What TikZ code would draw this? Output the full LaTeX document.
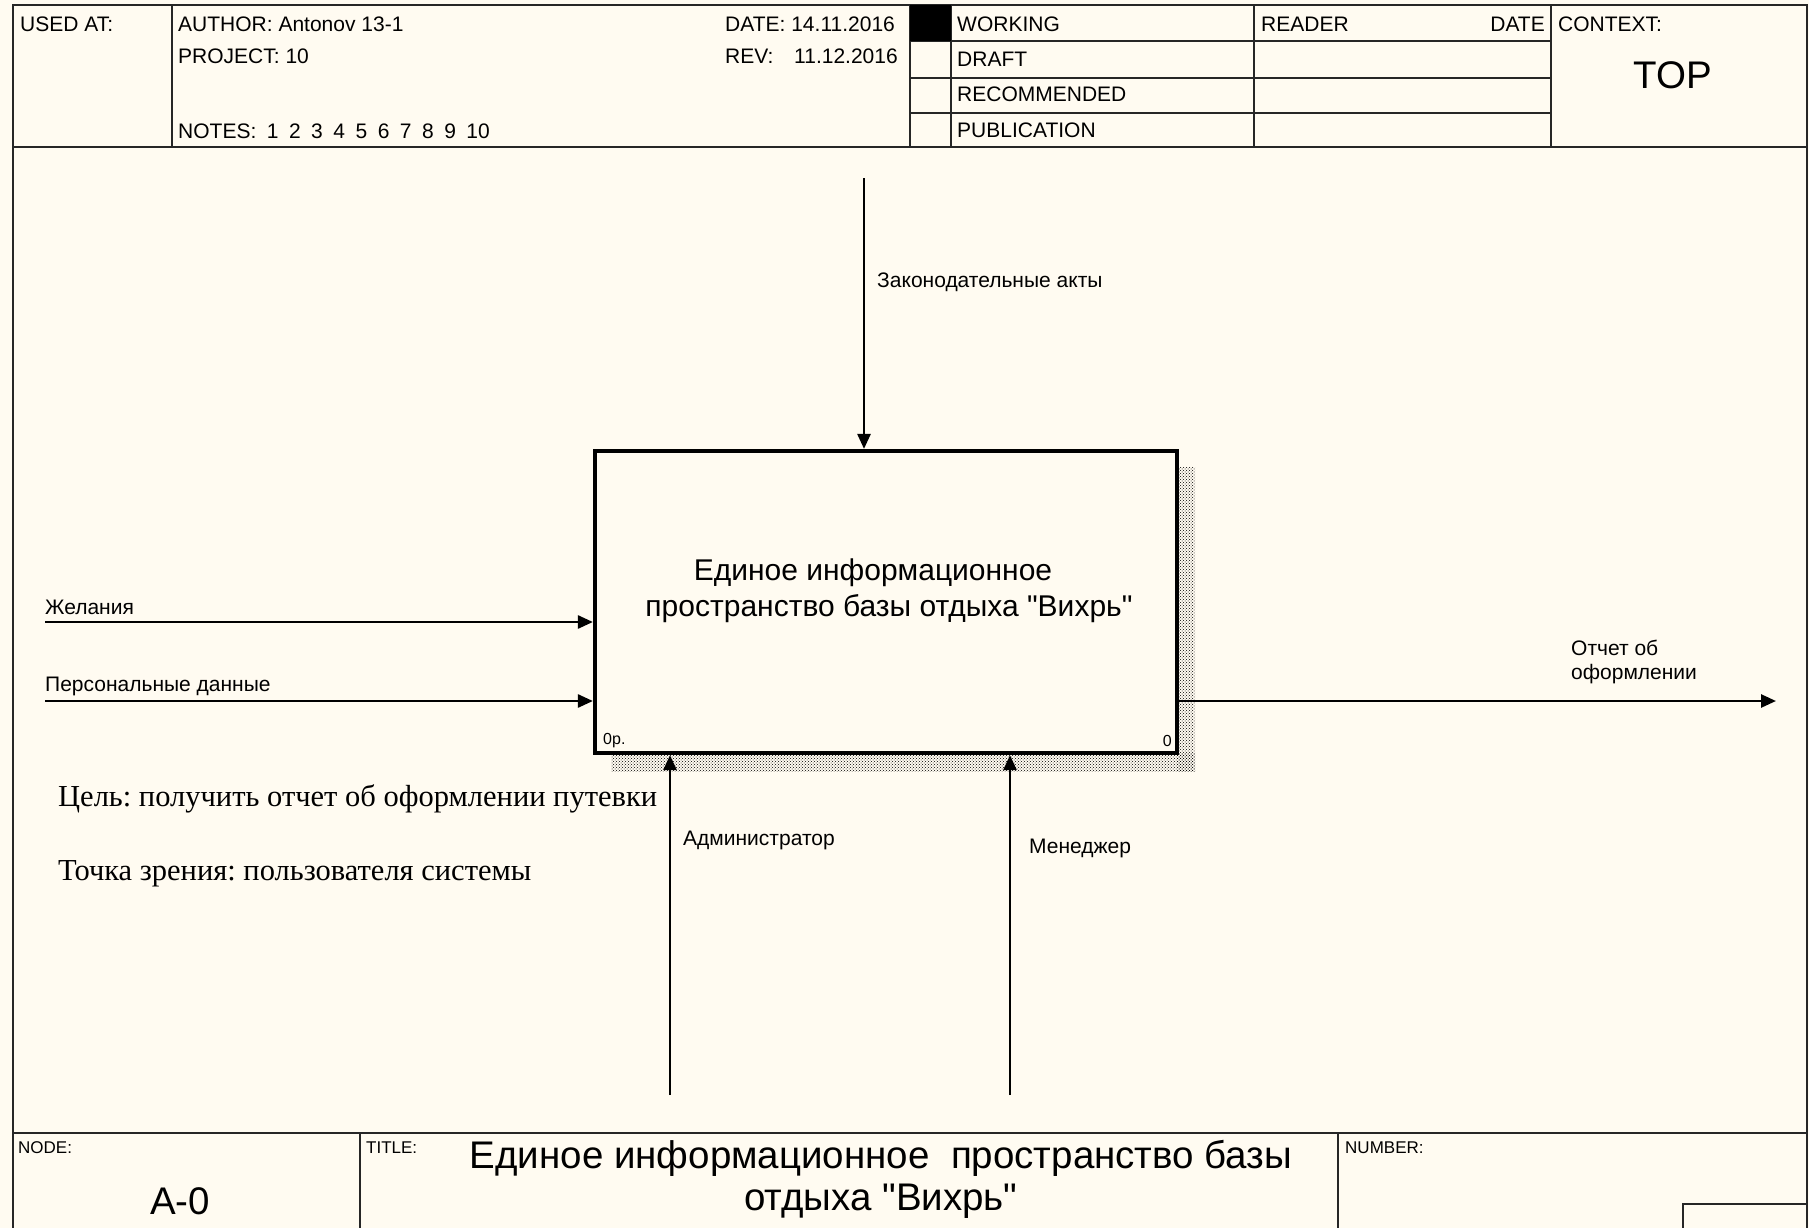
\documentclass[tikz,border=0pt]{standalone}
\usepackage{fontspec}
\setmainfont{Liberation Sans}[Ligatures=TeXOff]
\newfontfamily\serifru{Liberation Serif}
\usetikzlibrary{arrows.meta,patterns}
\definecolor{paper}{RGB}{255,251,241}
\newcommand{\qq}{\symbol{34}}
\newcommand{\ns}{\hspace{10.5pt}}
\frenchspacing
\begin{document}
\begin{tikzpicture}[x=1pt,y=-1pt,
  frame/.style={line width=2.6pt, draw=black!85},
  thin/.style={line width=2.2pt, draw=black!85},
  hdr/.style={anchor=west, inner sep=0, font=\fontsize{21}{24}\selectfont},
  small/.style={anchor=west, inner sep=0, font=\fontsize{17}{19}\selectfont},
  tiny/.style={anchor=west, inner sep=0, font=\fontsize{16}{18}\selectfont},
  lbl/.style={anchor=west, inner sep=0, font=\fontsize{21}{24}\selectfont},
  note/.style={anchor=west, inner sep=0, font=\serifru\fontsize{30.5}{34}\selectfont},
  big/.style={inner sep=0, font=\fontsize{38.5}{42}\selectfont},
  flow/.style={line width=2.6pt, -{Triangle[length=15,width=13]}},
  shadow/.style={pattern=crosshatch dots, pattern color=black, draw=none},
]
\useasboundingbox (0,0) rectangle (1809,1228);
\fill[paper] (0,0) rectangle (1809,1228);

% ---------- outer frame ----------
\draw[frame] (13,1240) -- (13,5) -- (1807,5) -- (1807,1240);
\draw[frame] (13,147) -- (1807,147);
\draw[frame] (13,1133) -- (1807,1133);

% ---------- header ----------
\draw[thin] (172,5) -- (172,147);
\draw[thin] (910,5) -- (910,147);
\draw[thin] (951,5) -- (951,147);
\draw[thin] (1254,5) -- (1254,147);
\draw[thin] (1551,5) -- (1551,147);
\foreach \yy in {41,78,113} \draw[thin] (910,\yy) -- (1551,\yy);
\fill[black] (910,5) rectangle (951,41);

\node[hdr] (usedat) at (20,24) {USED AT:};
\node[hdr] (author) at (178,24) {AUTHOR: Antonov 13-1};
\node[hdr] (project) at (178,56) {PROJECT: 10};
\node[hdr] (notes) at (178,131) {NOTES:\ns 1\ns 2\ns 3\ns 4\ns 5\ns 6\ns 7\ns 8\ns 9\ns 10};
\node[hdr] (date) at (725,24) {DATE: 14.11.2016};
\node[hdr] (rev) at (725,56) {REV:};
\node[hdr] (revd) at (794,56) {11.12.2016};
\node[hdr] (working) at (957,24) {WORKING};
\node[hdr] (draft) at (957,59) {DRAFT};
\node[hdr] (recom) at (957,94) {RECOMMENDED};
\node[hdr] (publ) at (957,130) {PUBLICATION};
\node[hdr] (reader) at (1261,24) {READER};
\node[hdr, anchor=east] (rdate) at (1545,24) {DATE};
\node[hdr] (context) at (1558,24) {CONTEXT:};
\node[big] (top) at (1673,75) {TOP};

% ---------- footer ----------
\draw[thin] (360,1133) -- (360,1240);
\draw[thin] (1338,1133) -- (1338,1240);
\draw[thin] (1683,1240) -- (1683,1204) -- (1807,1204);
\node[small] (nodel) at (18,1148) {NODE:};
\node[small] (titlel) at (366,1148) {TITLE:};
\node[small] (numl) at (1345,1148) {NUMBER:};
\node[big] (a0) at (180,1201) {A-0};
\node[big] (title1) at (881,1158) {Единое информационное\ \ пространство базы};
\node[big] (title2) at (881,1201) {отдыха \qq Вихрь\qq};

% ---------- activity box ----------
\fill[shadow] (1177,467) rectangle (1195,771);
\fill[shadow] (611,753) rectangle (1195,771);
\node[draw, line width=4.2pt, fill=paper, minimum width=582pt, minimum height=302pt, inner sep=0] (A0) at (886,602) {};
\node[inner sep=0, font=\fontsize{30}{34}\selectfont] (bt1) at (873,573) {Единое информационное};
\node[inner sep=0, font=\fontsize{30}{34}\selectfont] (bt2) at (889,609) {пространство базы отдыха \qq Вихрь\qq};
\node[tiny] (op) at (603,741) {0р.};
\node[tiny, anchor=east] (num0) at (1172,741) {0};

% ---------- arrows ----------
\coordinate (ctl) at (864,178);
\draw[flow] (ctl) -- (ctl |- A0.north);
\node[lbl] (ctllbl) at (877,282) {Законодательные акты};

\coordinate (in1) at (45,622);
\draw[flow] (in1) -- (in1 -| A0.west);
\node[lbl] (in1lbl) at (45,607) {Желания};

\coordinate (in2) at (45,701);
\draw[flow] (in2) -- (in2 -| A0.west);
\node[lbl] (in2lbl) at (45,686) {Персональные данные};

\coordinate (out1) at (1776,701);
\draw[flow] (out1 -| A0.east) -- (out1);
\node[lbl] (outlbl1) at (1571,648) {Отчет об};
\node[lbl] (outlbl2) at (1571,674) {оформлении};

\coordinate (mech1) at (670,1095);
\draw[flow] (mech1) -- (mech1 |- A0.south);
\node[lbl] (mech1lbl) at (683,840) {Администратор};

\coordinate (mech2) at (1010,1095);
\draw[flow] (mech2) -- (mech2 |- A0.south);
\node[lbl] (mech2lbl) at (1029,848) {Менеджер};

% ---------- notes ----------
\node[note] (goal) at (58,799) {Цель: получить отчет об оформлении путевки};
\node[note] (view) at (58,874) {Точка зрения: пользователя системы};
\end{tikzpicture}
\end{document}
